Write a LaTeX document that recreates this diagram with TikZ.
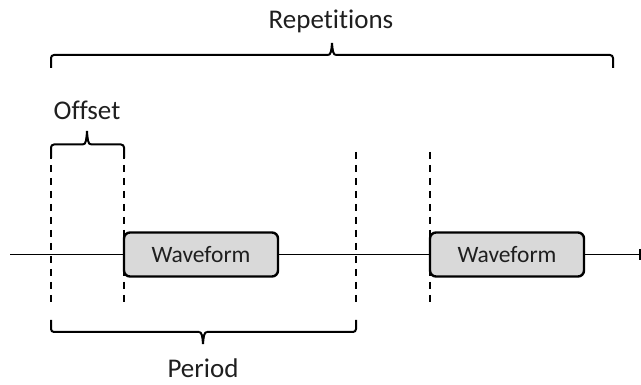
\documentclass[tikz,border=0pt]{standalone}
\usepackage{fontspec}
\setmainfont[Ligatures={NoCommon,NoRare}]{Carlito}
\usetikzlibrary{arrows.meta}
\definecolor{boxgray}{HTML}{D9D9D9}
\tikzset{
  wave/.style={draw=black, line width=2.4pt, fill=boxgray, rounded corners=6pt,
    minimum width=154pt, minimum height=44pt, inner sep=0pt,
    font=\fontsize{23.5}{28}\selectfont, text=black!88},
  lbl/.style={font=\fontsize{27}{32}\selectfont, text=black!88, inner sep=0pt},
  baseline/.style={line width=1.8pt},
  guide/.style={line width=2pt, dash pattern=on 7pt off 6pt},
  brace/.style={line width=2pt, rounded corners=3pt}
}
\begin{document}
\begin{tikzpicture}[x=1pt,y=-1pt]
\useasboundingbox (0,0) rectangle (641,385);
% labels
\node[lbl] (rep) at (331,21) {Repetitions};
\node[lbl] (off) at (87,110) {Offset};
\node[lbl] (per) at (203,368) {Period};
% waveform boxes
\node[wave] (w1) at (201,254.5) {Waveform};
\node[wave] (w2) at (507,254.5) {Waveform};
% line end coordinates
\coordinate (start) at (10,254.5);
\coordinate (end) at (641,254.5);
% main line
\draw[baseline] (start) -- (w1.west);
\draw[baseline] (w1.east) -- (w2.west);
\draw[baseline, -{Bar[width=11pt,line width=2pt]}] (w2.east) -- (end);
% dashed guides
\coordinate (d1t) at (51,152); \coordinate (d1b) at (51,306);
\coordinate (d2t) at (124,152); \coordinate (d2b) at (124,306);
\coordinate (d3t) at (356,152); \coordinate (d3b) at (356,306);
\coordinate (d4t) at (430,152); \coordinate (d4b) at (430,306);
\draw[guide] (d1t) -- (d1b);
\draw[guide] (d2t) -- (d2b);
\draw[guide] (d3t) -- (d3b);
\draw[guide] (d4t) -- (d4b);
% Repetitions brace
\draw[brace] (51,68) -- (51,55) -- (328,55);
\draw[line width=2pt] (328,55) .. controls (331,55) and (331.5,50) .. (332,43)
  .. controls (332.5,50) and (333,55) .. (336,55);
\draw[brace] (336,55) -- (613,55) -- (613,68);
% Offset brace
\draw[brace] (51,158) -- (51,144.5) -- (83,144.5);
\draw[line width=2pt] (83,144.5) .. controls (86,144.5) and (86.5,139) .. (87,131)
  .. controls (87.5,139) and (88,144.5) .. (91,144.5);
\draw[brace] (91,144.5) -- (124,144.5) -- (124,158);
% Period brace
\draw[brace] (51,320) -- (51,332) -- (199,332);
\draw[line width=2pt] (199,332) .. controls (202,332) and (202.5,337) .. (203,344)
  .. controls (203.5,337) and (204,332) .. (207,332);
\draw[brace] (207,332) -- (356,332) -- (356,320);
\end{tikzpicture}
\end{document}
